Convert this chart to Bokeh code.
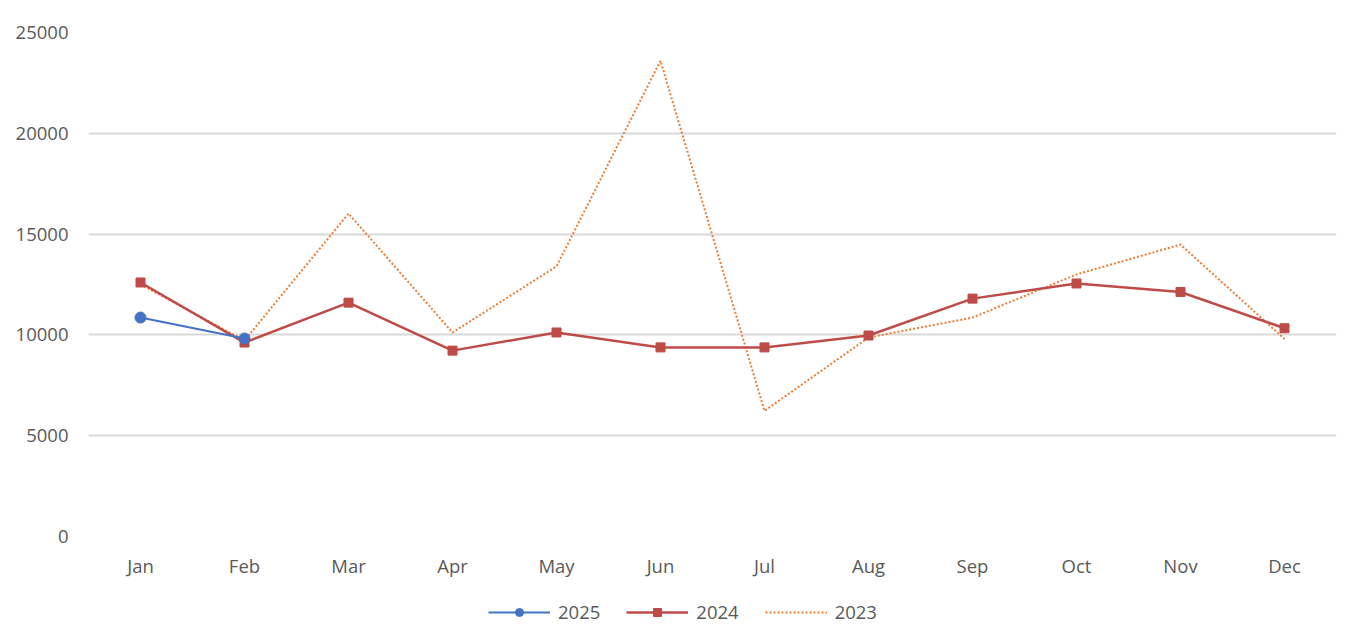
from bokeh.plotting import figure
from bokeh.layouts import column
from bokeh.models import FixedTicker, Legend, LegendItem
from bokeh.embed import file_html
from bokeh.resources import INLINE

months = ["Jan", "Feb", "Mar", "Apr", "May", "Jun", "Jul", "Aug", "Sep", "Oct", "Nov", "Dec"]
y2025 = [10860, 9820]
y2024 = [12600, 9620, 11600, 9220, 10120, 9380, 9380, 9970, 11800, 12550, 12130, 10330]
y2023 = [12500, 9720, 16020, 10120, 13400, 23600, 6230, 9870, 10860, 13000, 14480, 9800]
y_ticks = [0, 5000, 10000, 15000, 20000, 25000]
series_names = ["2025", "2024", "2023"]

FONT = "Open Sans"
TXT = "#595959"
FS = "18.5px"
C25, C24, C23 = "#4472C4", "#BE4B48", "#ED7D31"

p = figure(x_range=months, y_range=(0, 25000), width=1340, height=588,
           output_backend="svg", toolbar_location=None,
           min_border_left=88, min_border_right=4, min_border_top=32, min_border_bottom=52)
p.outline_line_color = None
p.x_range.range_padding = 0

p.line(months, y2023, line_color=C23, line_width=2, line_dash="2 2")
p.line(months, y2024, line_color=C24, line_width=2.5)
p.scatter(months, y2024, marker="square", size=9, fill_color=C24, line_color=C24)
p.line(months[:2], y2025, line_color=C25, line_width=2)
p.scatter(months[:2], y2025, marker="circle", size=11, fill_color=C25, line_color=C25)

p.yaxis.ticker = FixedTicker(ticks=y_ticks)
for ax in (p.xaxis[0], p.yaxis[0]):
    ax.axis_line_color = None
    ax.major_tick_line_color = None
    ax.minor_tick_line_color = None
    ax.major_label_text_font = FONT
    ax.major_label_text_font_size = FS
    ax.major_label_text_color = TXT
p.yaxis.major_label_standoff = 14
p.xaxis.major_label_standoff = 10

p.xgrid.grid_line_color = None
p.ygrid.grid_line_color = "#D9D9D9"
p.ygrid.grid_line_width = 2
p.ygrid.ticker = FixedTicker(ticks=y_ticks)

# legend strip below the chart (proxy renderers sit outside the visible range)
lf = figure(width=1340, height=48, x_range=(0, 1), y_range=(0, 1),
            output_backend="svg", toolbar_location=None, min_border=0)
lf.axis.visible = False
lf.grid.visible = False
lf.outline_line_color = None
px, py = [-10, -9], [-10, -10]
e25l = lf.line(px, py, line_color=C25, line_width=2)
e25s = lf.scatter(px, py, marker="circle", size=12, fill_color=C25, line_color=C25)
e24l = lf.line(px, py, line_color=C24, line_width=2.5)
e24s = lf.scatter(px, py, marker="square", size=10, fill_color=C24, line_color=C24)
e23l = lf.line(px, py, line_color=C23, line_width=2, line_dash="2 2")

legend = Legend(items=[
    LegendItem(label=series_names[0], renderers=[e25l, e25s]),
    LegendItem(label=series_names[1], renderers=[e24l, e24s]),
    LegendItem(label=series_names[2], renderers=[e23l]),
], orientation="horizontal", location=(400, 12))
legend.border_line_color = None
legend.background_fill_alpha = 0
legend.label_text_font = FONT
legend.label_text_font_size = FS
legend.label_text_color = TXT
legend.glyph_width = 62
legend.label_standoff = 8
legend.spacing = 26
legend.margin = 0
legend.padding = 0
lf.add_layout(legend, "center")

layout = column(p, lf, spacing=0)
open("out.html", "w").write(file_html(layout, INLINE))
